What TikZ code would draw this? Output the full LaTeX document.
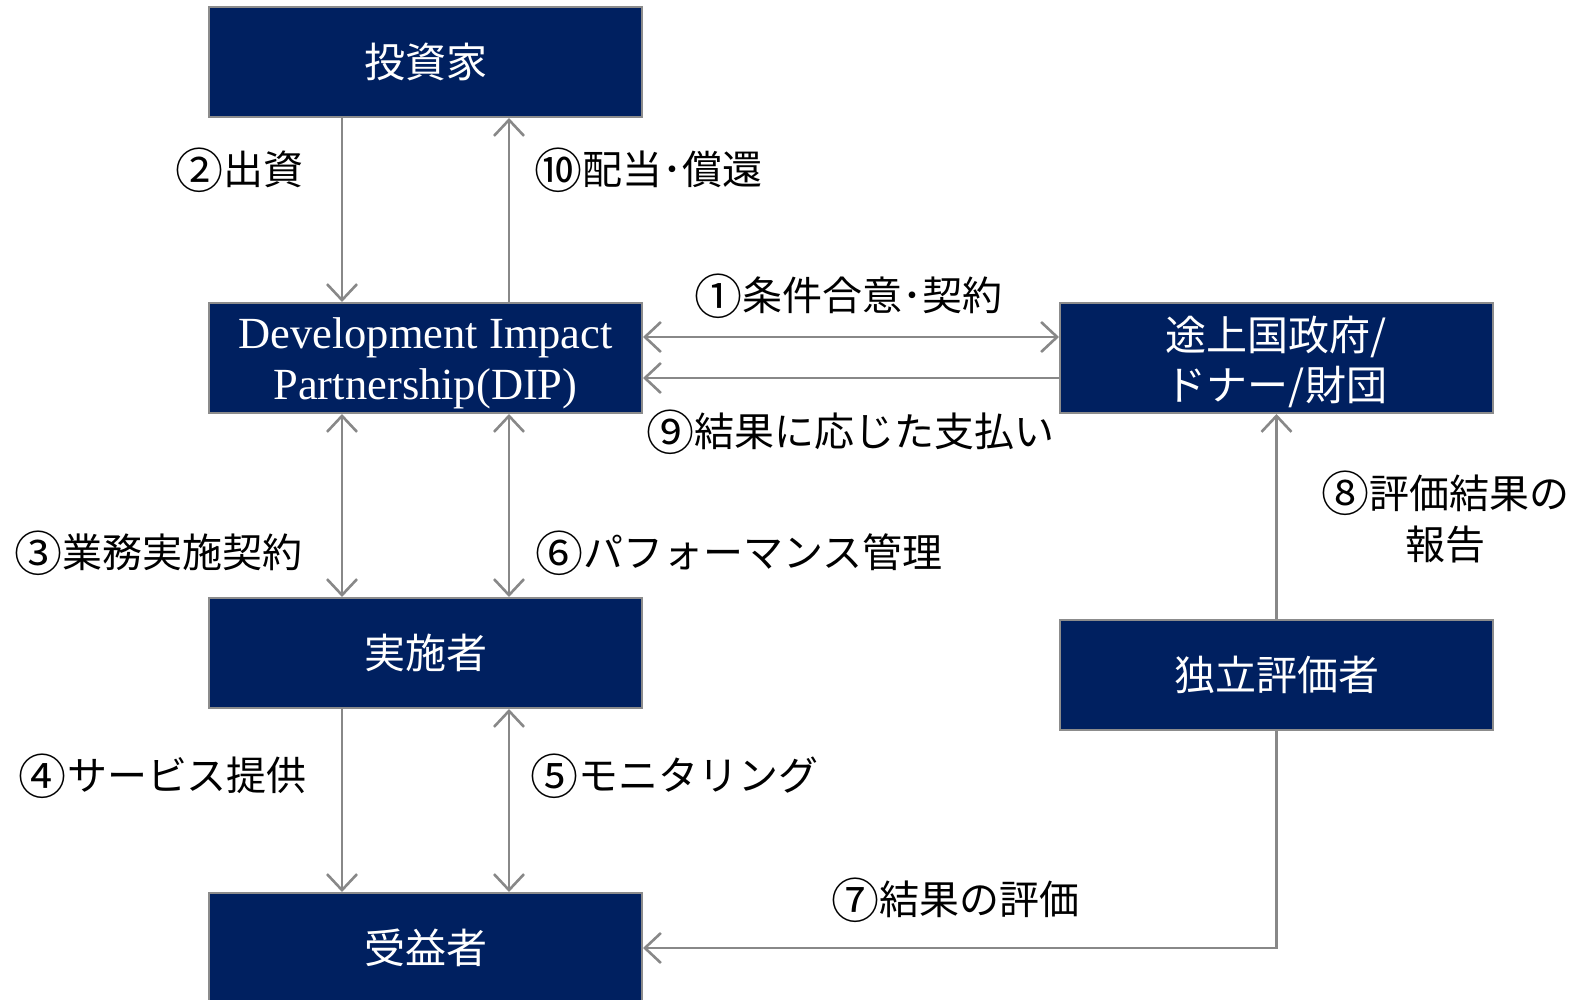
\documentclass[tikz,border=0pt]{standalone}
\usepackage{fontspec}
\setmainfont{Liberation Serif}
\newfontfamily\jp{Noto Sans CJK JP}
\usetikzlibrary{arrows.meta}
\definecolor{navy}{HTML}{002060}
\definecolor{boxborder}{HTML}{8C8C8C}
\definecolor{linegray}{HTML}{888888}
\newcommand{\circnum}[1]{\raisebox{-0.09em}{\scalebox{1.2}{#1}}}
\begin{document}
\begin{tikzpicture}[x=1pt,y=-1pt,
  nbox/.style={draw=boxborder, line width=2pt, fill=navy, minimum width=433pt, minimum height=110pt,
    inner sep=0pt, text=white, font=\jp\fontsize{41}{50}\selectfont, align=center},
  lbl/.style={inner sep=0pt, text=black, font=\jp\fontsize{40}{51}\selectfont, align=center},
  conn/.style={draw=linegray, line width=2.6pt},
  barb/.tip={Straight Barb[length=16pt,width=30pt]},
  onearrow/.style={conn, -barb},
  twoarrow/.style={conn, barb-barb}
]
\useasboundingbox (0,0) rectangle (1583,1000);
\fill[white] (0,0) rectangle (1583,1000);

\node[nbox] (inv) at (425.5,62) {投資家};
\node[nbox, font=\fontsize{44.5}{51}\selectfont] (dip) at (425.5,358) {\rule{0pt}{42pt}Development Impact\\Partnership(DIP)};
\node[nbox] (gov) at (1276.5,358) {\rule{0pt}{42pt}途上国政府/\\ドナー/財団};
\node[nbox] (imp) at (425.5,653) {実施者};
\node[nbox] (eva) at (1276.5,675) {独立評価者};
\node[nbox] (ben) at (425.5,948) {受益者};

% connectors
\draw[onearrow] ([xshift=-83.5pt]inv.south) -- ([xshift=-83.5pt]dip.north);
\draw[onearrow] ([xshift=83.5pt]dip.north) -- ([xshift=83.5pt]inv.south);
\draw[twoarrow] ([xshift=-83.5pt]dip.south) -- ([xshift=-83.5pt]imp.north);
\draw[twoarrow] ([xshift=83.5pt]dip.south) -- ([xshift=83.5pt]imp.north);
\draw[onearrow] ([xshift=-83.5pt]imp.south) -- ([xshift=-83.5pt]ben.north);
\draw[twoarrow] ([xshift=83.5pt]imp.south) -- ([xshift=83.5pt]ben.north);
\draw[twoarrow] ([yshift=21pt]dip.east) -- ([yshift=21pt]gov.west);
\draw[onearrow] ([yshift=-20pt]gov.west) -- ([yshift=-20pt]dip.east);
\draw[onearrow] (eva.north) -- (gov.south);
\draw[onearrow] (eva.south) |- (ben.east);

% labels
\node[lbl] (l2) at (239,170) {\circnum{②}出資};
\node[lbl] (l10) at (648,170) {\circnum{⑩}配当･償還};
\node[lbl] (l1) at (848,296) {\circnum{①}条件合意･契約};
\node[lbl] (l9) at (850,432) {\circnum{⑨}結果に応じた支払い};
\node[lbl] (l3) at (158,553) {\circnum{③}業務実施契約};
\node[lbl] (l6) at (739,553) {\circnum{⑥}パフォーマンス管理};
\node[lbl] (l8) at (1445,517) {\circnum{⑧}評価結果の\\報告};
\node[lbl] (l4) at (163,776) {\circnum{④}サービス提供};
\node[lbl] (l5) at (674,776) {\circnum{⑤}モニタリング};
\node[lbl] (l7) at (955,900) {\circnum{⑦}結果の評価};
\end{tikzpicture}
\end{document}
